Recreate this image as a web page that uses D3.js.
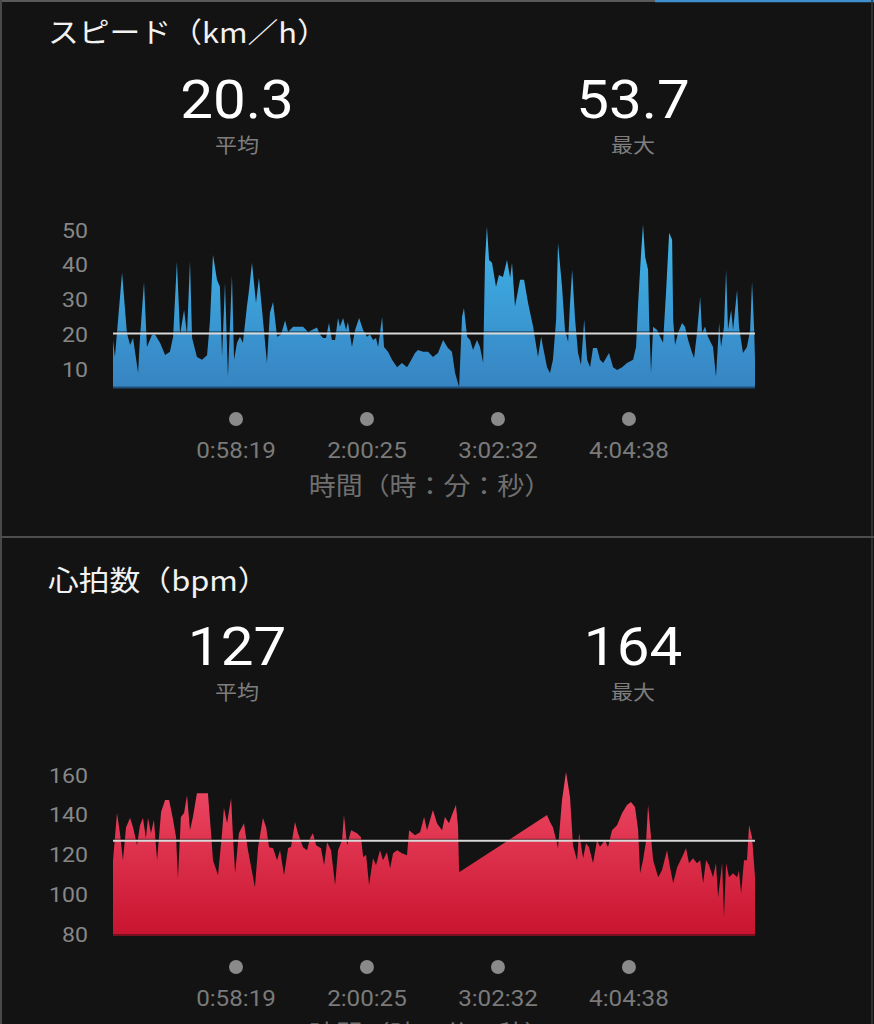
<!DOCTYPE html>
<html><head><meta charset="utf-8">
<script src="https://cdnjs.cloudflare.com/ajax/libs/d3/7.8.5/d3.min.js"></script>
<style>html,body{margin:0;padding:0;background:#131313;}svg{display:block;}</style>
</head><body>
<svg id="c" width="874" height="1024"></svg>
<script>
// ---- data ----
const xTickLabels = ["0:58:19", "2:00:25", "3:02:32", "4:04:38"];
const totalMinutes = 304.4;

const speedTicks = [10, 20, 30, 40, 50];
const speedAvg = 20.3, speedMax = 53.7;
const speedTime = [0,0.9,4.3,6.6,8.1,9.5,11.9,12.8,14.7,16.1,18.5,19.9,22.3,24.7,27.0,28.5,30.3,31.8,33.7,35.1,36.5,37.5,39.8,42.2,44.6,46.0,47.4,49.3,50.7,51.7,53.1,54.5,56.4,57.4,58.8,60.2,61.6,63.5,64.5,65.9,67.8,69.2,71.1,73.0,74.4,75.9,77.8,79.7,81.6,83.0,85.4,90.1,92.5,96.7,98.2,99.6,101.0,102.4,103.8,105.3,106.7,107.6,109.1,110.5,111.4,113.3,114.8,116.7,118.6,120.4,121.9,123.3,124.7,125.7,127.6,128.5,130.4,132.3,134.7,137.0,139.4,140.8,143.2,144.6,147.0,149.4,151.7,154.1,156.5,158.8,160.7,162.2,164.1,165.5,166.4,167.9,169.3,170.7,172.6,174.0,175.5,176.4,177.3,178.3,179.7,181.6,183.0,184.9,186.8,188.3,189.2,190.6,193.0,194.9,196.8,199.2,201.5,203.0,203.9,205.8,207.2,208.6,210.1,211.0,212.9,214.3,215.8,216.7,217.7,219.1,220.5,221.9,223.4,224.8,226.2,227.6,229.5,230.9,232.4,235.2,237.1,239.0,241.4,243.7,246.6,248.0,249.0,250.4,251.3,252.3,253.7,254.2,255.1,256.1,258.0,259.4,260.8,262.2,263.7,265.1,265.6,266.5,267.9,269.8,271.2,272.7,274.6,275.5,276.9,278.4,279.3,280.7,282.1,284.5,285.9,287.4,288.3,289.7,290.7,291.6,293.1,294.0,295.9,296.8,298.7,300.6,302.1,303.0,304.0,304.4];
const speedValue = [18.4,13.5,37.7,20.4,17,19,8.9,19,35,16.4,19.9,20,17.6,14.1,15,19.3,40.9,20,27,20,41,19,13.5,12.7,14,24,42.9,35.7,33.7,13.5,34.8,7.8,37,12.7,17.6,19.3,17.6,28,32.8,40.6,29,36.3,24.2,11.8,26.2,29.3,19.3,20,24,20.7,22.2,22.2,20.7,22,19.9,19,19,23.3,18.4,18.4,24.7,22.2,24.7,21.3,23.6,16.4,21.3,24.7,21.3,19.3,20,18.4,19,16.4,25,16.4,15,12.7,10.6,11.8,10.6,12,14.7,15.5,15,15,13.5,14.7,18.4,16.1,15,8.9,4.9,25,27.6,19.3,18.4,15.5,18.4,16.4,11.8,41.4,51,41.4,40.6,33.7,37.1,36.5,41.4,36.3,40.6,28,35.7,35.7,29,22.2,13.5,19.3,16.4,10.6,8.9,12.7,24.2,46.3,33.7,21.3,17.8,29,38.6,24.2,14.7,11.2,24.2,12.7,10.6,16.1,16.1,12.7,11.8,14.7,10.6,9.8,10.6,11.8,12.7,16.4,29,43.5,51.5,42.3,38.6,24.2,8.9,22.2,21.3,19.3,17.6,31.9,49.2,47.2,24.2,17,20.4,23.3,22.2,18.4,14.7,13.2,20.4,30.8,20.4,22.2,19.3,16.4,7.8,23.3,16.4,22.2,38.6,21.3,27,21.3,32.8,22.2,14.7,16.4,21.3,35.1,21.3,12.7];

const hrTicks = [80, 100, 120, 140, 160];
const hrAvg = 127, hrMax = 164;
const hrTime = [0,1.9,3.3,4.7,6.2,8.1,9.5,11.4,12.8,14.2,15.6,16.6,18.0,19.4,20.9,22.8,24.7,26.6,28.5,29.9,30.8,32.2,33.7,35.1,36.5,37.9,39.8,45.0,46.5,47.4,49.8,51.7,52.6,54.1,56.0,56.9,57.9,59.7,62.1,64.0,67.3,68.8,71.1,72.6,74.0,75.9,77.8,79.2,81.1,83.0,84.4,86.3,87.7,90.1,92.0,93.4,94.8,96.3,98.6,100.1,101.5,103.4,105.3,106.7,108.6,109.5,111.0,112.9,115.7,117.6,118.6,120.0,121.4,123.3,124.7,126.6,128.0,129.9,131.4,132.8,134.7,137.0,139.4,140.4,143.2,145.6,147.5,148.9,151.7,153.6,156.0,157.4,159.3,160.7,162.6,163.6,164.1,205.8,207.2,208.6,210.5,211.0,212.9,214.8,216.7,218.1,220.0,221.0,222.9,224.3,225.7,227.6,229.5,230.9,233.3,234.7,236.6,239.0,241.4,243.7,245.6,247.5,249.0,249.9,251.3,252.8,253.7,255.1,256.1,258.5,260.3,262.7,264.1,265.6,267.5,269.8,271.7,273.1,275.0,276.9,278.4,279.8,281.2,282.6,284.5,285.9,286.9,288.8,289.7,290.7,292.1,294.0,295.9,296.8,297.8,299.2,300.6,301.6,303.0,304.4];
const hrValue = [117,140.9,130.8,117.2,133.8,138.4,133.8,124.8,134.8,138.4,128.3,138.4,130.8,137.4,117.2,141.4,147.4,147.4,137.4,128.8,108.2,138.9,140.9,149.9,132.3,138.9,150.9,150.9,130.8,117.2,109.7,130.8,143.4,135.8,148.4,128.8,110.7,130.8,135.8,122.3,103.6,123.8,138.4,133.8,123.8,123.3,117.2,122.3,109.7,123.3,124,136.4,130.8,123.8,122.3,128.3,130.8,124.8,123.3,114.7,126.3,122.3,104.7,122.3,127.3,139.9,124.8,132.3,130.8,128.8,118.7,120,104.7,118.2,114.7,122.3,117.2,121.3,113.2,120.8,122.3,120.8,119.8,132.3,129.8,131.3,138.9,132.3,142.4,135.8,132.3,138.9,135.8,139.9,144.9,134,111.2,139.9,136.4,133.8,125.8,123.3,147.4,161.5,148.9,124.8,117.2,130.8,118.2,125.8,123.8,115.7,127.3,124,127.3,123.8,132.3,134.8,140.9,144.9,146.4,143.9,132.3,110.7,117.2,127.3,144.9,128.8,117.2,108.7,112.2,122.3,113.7,105.7,113.7,118.7,123.3,115.7,118.2,115.7,117.2,105.7,117.2,114.7,108.7,115.7,98.6,115.7,88.6,115.7,108.7,110.7,108.7,112,100.6,117.2,117.2,134.8,128.8,108.7];

// ---- drawing ----
const svg = d3.select("#c");
const BG = "#131313";
svg.append("rect").attr("width", 874).attr("height", 1024).attr("fill", BG);

const numFont = "'Helvetica Neue', Roboto, 'Liberation Sans', Arial, sans-serif";
const jpFont = "'Noto Sans CJK JP', 'Noto Sans', sans-serif";
const SX = 1.1;

function txt(x, y, s, size, fill, anchor, family, weight) {
  return svg.append("text")
    .attr("transform", `translate(${x},${y}) scale(${SX},1)`)
    .attr("text-anchor", anchor || "start")
    .attr("font-family", family || numFont)
    .attr("font-weight", weight || 400)
    .attr("font-size", size)
    .attr("fill", fill)
    .text(s);
}

function toMin(s) { const p = s.split(":").map(Number); return p[0] * 60 + p[1] + p[2] / 60; }

const x = d3.scaleLinear().domain([0, totalMinutes]).range([113, 755]);

// frame
svg.append("line").attr("x1", 0).attr("x2", 874).attr("y1", 1).attr("y2", 1).attr("stroke", "#5a5a5a").attr("stroke-width", 2);
svg.append("line").attr("x1", 655).attr("x2", 874).attr("y1", 1).attr("y2", 1).attr("stroke", "#3d8fd0").attr("stroke-width", 2.5);
svg.append("line").attr("x1", 1).attr("x2", 1).attr("y1", 0).attr("y2", 1024).attr("stroke", "#4a4a4a").attr("stroke-width", 2);
svg.append("line").attr("x1", 872).attr("x2", 872).attr("y1", 0).attr("y2", 1024).attr("stroke", "#3a3a3a").attr("stroke-width", 1.5);
svg.append("line").attr("x1", 0).attr("x2", 874).attr("y1", 537).attr("y2", 537).attr("stroke", "#4d4d4d").attr("stroke-width", 2);

const defs = svg.append("defs");
function grad(id, top, bottom) {
  const g = defs.append("linearGradient").attr("id", id).attr("x1", 0).attr("x2", 0).attr("y1", 0).attr("y2", 1);
  g.append("stop").attr("offset", "0%").attr("stop-color", top);
  g.append("stop").attr("offset", "100%").attr("stop-color", bottom);
}
grad("gSpeed", "#3fb6ea", "#3784c2");
grad("gHr", "#f04c68", "#c9142f");

function panel(cfg) {
  const y = d3.scaleLinear().domain(cfg.domain).range(cfg.range);
  // title
  txt(48, cfg.titleY, cfg.title, 28, "#f2f2f2", "start", jpFont, 400);
  // summary numbers
  txt(237, cfg.numY, cfg.avgText, 53, "#ffffff", "middle", numFont, 400);
  txt(633, cfg.numY, cfg.maxText, 53, "#ffffff", "middle", numFont, 400);
  txt(237, cfg.subY, "平均", 20, "#7e7e7e", "middle", jpFont, 400);
  txt(633, cfg.subY, "最大", 20, "#7e7e7e", "middle", jpFont, 400);
  // y ticks
  cfg.ticks.forEach(t => {
    txt(88, y(t) + 7.5, String(t), 21, "#878787", "end", numFont, 400);
  });
  // area
  const data = cfg.time.map((t, i) => ({ t, v: cfg.values[i] }));
  const base = cfg.range[0];
  const area = d3.area().x(d => x(d.t)).y0(base).y1(d => y(d.v)).curve(d3.curveLinear);
  svg.append("path").datum(data).attr("d", area).attr("fill", `url(#${cfg.grad})`);
  svg.append("line").attr("x1", x(0)).attr("x2", x(totalMinutes)).attr("y1", base + 0.5).attr("y2", base + 0.5)
    .attr("stroke", cfg.baseColor).attr("stroke-width", 2);
  // average line
  svg.append("line").attr("x1", x(0)).attr("x2", x(totalMinutes)).attr("y1", y(cfg.avg) - 1.5).attr("y2", y(cfg.avg) - 1.5)
    .attr("stroke", "#000000").attr("stroke-opacity", 0.6).attr("stroke-width", 1);
  svg.append("line").attr("x1", x(0)).attr("x2", x(totalMinutes)).attr("y1", y(cfg.avg)).attr("y2", y(cfg.avg))
    .attr("stroke", "#d8d8d8").attr("stroke-width", 2);
  // x ticks
  xTickLabels.forEach(lbl => {
    const px = x(toMin(lbl));
    svg.append("circle").attr("cx", px).attr("cy", cfg.dotY).attr("r", 7).attr("fill", "#8a8a8a");
    txt(px, cfg.dotY + 39, lbl, 22, "#7a7a7a", "middle", numFont, 400);
  });
  txt(430, cfg.dotY + 76, "時間（時：分：秒）", 24.5, "#6f6f6f", "middle", jpFont, 400);
}

panel({
  title: "スピード（km／h）", titleY: 43, numY: 118, subY: 153,
  avgText: speedAvg.toFixed(1), maxText: speedMax.toFixed(1),
  domain: [4.9, 50], range: [387, 230], ticks: speedTicks,
  time: speedTime, values: speedValue, grad: "gSpeed", baseColor: "#1f4f7a",
  avg: speedAvg, dotY: 419
});
panel({
  title: "心拍数（bpm）", titleY: 591, numY: 665, subY: 700,
  avgText: String(hrAvg), maxText: String(hrMax),
  domain: [80, 160], range: [934.5, 775], ticks: hrTicks,
  time: hrTime, values: hrValue, grad: "gHr", baseColor: "#7a0f1f",
  avg: hrAvg, dotY: 967
});
</script>
</body></html>
